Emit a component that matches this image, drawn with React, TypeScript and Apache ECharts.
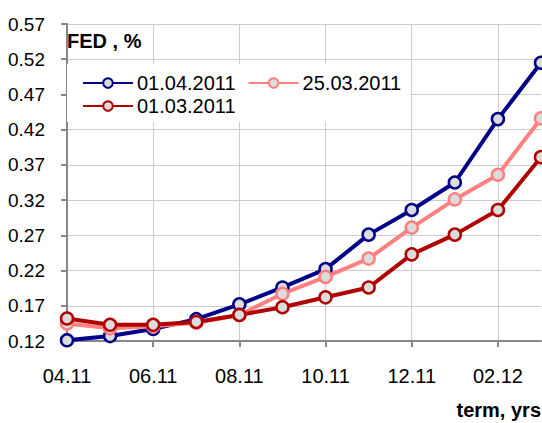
import React, { useEffect, useRef } from "react";
import * as echarts from "echarts";

const months = ["04.11", "05.11", "06.11", "07.11", "08.11", "09.11", "10.11", "11.11", "12.11", "01.12", "02.12", "03.12"];
const s0104 = [0.121, 0.127, 0.137, 0.151, 0.172, 0.196, 0.222, 0.271, 0.306, 0.345, 0.435, 0.515];
const s2503 = [0.145, 0.138, 0.141, 0.146, 0.157, 0.187, 0.211, 0.237, 0.281, 0.321, 0.356, 0.436];
const s0103 = [0.152, 0.143, 0.143, 0.147, 0.157, 0.168, 0.182, 0.196, 0.243, 0.271, 0.306, 0.381];
const seriesNames = ["01.04.2011", "25.03.2011", "01.03.2011"];
const yMin = 0.12;
const yMax = 0.57;
const yStep = 0.05;

const FONT = "'Liberation Sans', Arial, sans-serif";

export default function App() {
  const ref = useRef<HTMLDivElement>(null);
  useEffect(() => {
    document.body.style.margin = "0";
    const chart = echarts.init(ref.current!, null, { renderer: "svg" });
    const colors = ["#000088", "#ff8080", "#b00000"];
    const datasets = [s0104, s2503, s0103];
    chart.setOption({
      animation: false,
      backgroundColor: "#fff",
      textStyle: { fontFamily: FONT },
      title: [
        {
          text: "FED , %",
          left: 67,
          top: 31,
          padding: 0,
          textStyle: { fontFamily: FONT, fontSize: 20, fontWeight: "bold", color: "#000" },
        },
        {
          text: "term, yrs",
          right: 1,
          top: 400,
          padding: 0,
          textStyle: { fontFamily: FONT, fontSize: 20, fontWeight: "bold", color: "#000" },
        },
      ],
      legend: {
        data: seriesNames,
        left: 67,
        top: 64,
        width: 330,
        padding: [9, 0, 6, 15],
        backgroundColor: "#fff",
        itemWidth: 50,
        itemHeight: 12,
        itemGap: 3,
        textStyle: { fontFamily: FONT, fontSize: 20, lineHeight: 13, color: "#000", padding: [0, 9, 0, -1] },
      },
      grid: { left: 67, right: 1, top: 24, bottom: 82, containLabel: false },
      xAxis: {
        type: "category",
        data: months,
        boundaryGap: false,
        axisLine: { lineStyle: { color: "#888", width: 2 } },
        axisTick: { show: true, interval: 1, length: 6, lineStyle: { color: "#888", width: 2 } },
        axisLabel: { interval: 1, fontFamily: FONT, fontSize: 20, color: "#000", margin: 25 },
        splitLine: { show: true, interval: 1, lineStyle: { color: "#cccccc", width: 1 } },
      },
      yAxis: {
        type: "value",
        min: 0,
        max: yMax - yMin,
        interval: yStep,
        axisLine: { show: true, lineStyle: { color: "#888", width: 2 } },
        axisTick: { show: true, length: 6, lineStyle: { color: "#888", width: 2 } },
        axisLabel: {
          fontFamily: FONT,
          fontSize: 19,
          color: "#000",
          margin: 22,
          formatter: (v: number) => (v + yMin).toFixed(2),
        },
        splitLine: { show: true, lineStyle: { color: "#cccccc", width: 1 } },
      },
      series: datasets.map((d, i) => ({
        name: seriesNames[i],
        type: "line",
        data: d.map((v) => +(v - yMin).toFixed(4)),
        symbol: "circle",
        symbolSize: 12,
        showAllSymbol: true,
        lineStyle: { color: colors[i], width: 4 },
        itemStyle: { color: "#dcdcdc", borderColor: colors[i], borderWidth: 2.5 },
        emphasis: { disabled: true },
      })),
    });
    return () => chart.dispose();
  }, []);
  return <div ref={ref} style={{ width: 542, height: 423 }} />;
}
